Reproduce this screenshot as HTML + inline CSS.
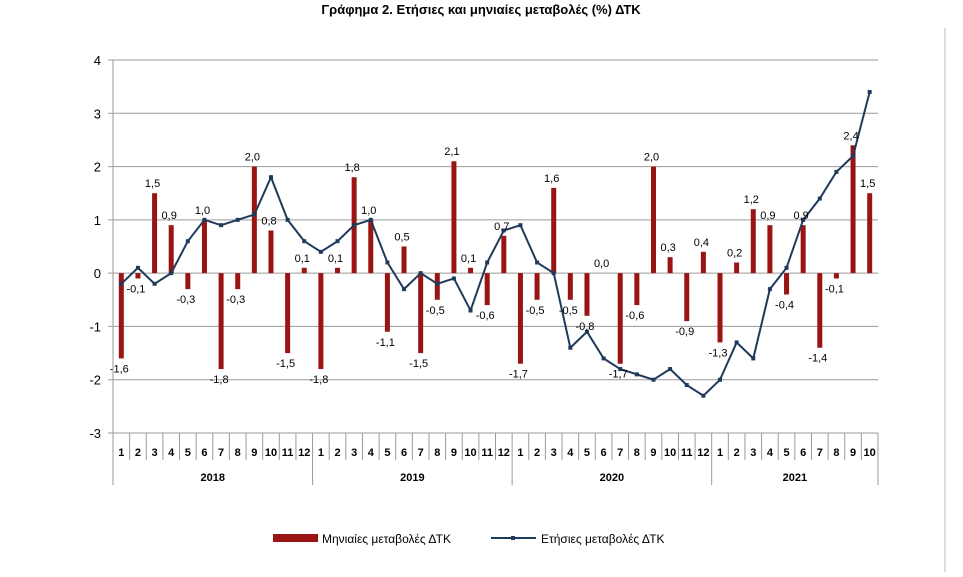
<!DOCTYPE html>
<html><head><meta charset="utf-8"><style>
body{margin:0;background:#fff;width:963px;height:572px;overflow:hidden;font-family:"Liberation Sans","DejaVu Sans",sans-serif;}
</style></head><body>
<svg width="963" height="572" xmlns="http://www.w3.org/2000/svg">
<text x="481" y="14" text-anchor="middle" font-size="13" font-weight="bold">Γράφημα 2. Ετήσιες και μηνιαίες μεταβολές (%) ΔΤΚ</text>
<line x1="945" y1="28" x2="945" y2="572" stroke="#bbb"/>
<g id="grid"></g><g id="bars"></g><g id="line"></g><g id="labels"></g><g id="axis"></g>
<g>
<rect x="273" y="534" width="45" height="8" fill="#9b1414"/>
<text x="322" y="543" font-size="12">Μηνιαίες μεταβολές ΔΤΚ</text>
<line x1="491" y1="538" x2="536" y2="538" stroke="#1f3a5a" stroke-width="2"/>
<rect x="511" y="536" width="4" height="4" fill="#1f3a5a"/>
<text x="541" y="543" font-size="12">Ετήσιες μεταβολές ΔΤΚ</text>
</g>
</svg>
<script>
const years = ["2018","2019","2020","2021"];
const monthsPerYear = [12,12,12,10];
const monthly = [-1.6,-0.1,1.5,0.9,-0.3,1.0,-1.8,-0.3,2.0,0.8,-1.5,0.1,
 -1.8,0.1,1.8,1.0,-1.1,0.5,-1.5,-0.5,2.1,0.1,-0.6,0.7,
 -1.7,-0.5,1.6,-0.5,-0.8,0.0,-1.7,-0.6,2.0,0.3,-0.9,0.4,
 -1.3,0.2,1.2,0.9,-0.4,0.9,-1.4,-0.1,2.4,1.5];
const annual = [-0.2,0.1,-0.2,0.0,0.6,1.0,0.9,1.0,1.1,1.8,1.0,0.6,
 0.4,0.6,0.9,1.0,0.2,-0.3,0.0,-0.2,-0.1,-0.7,0.2,0.8,
 0.9,0.2,0.0,-1.4,-1.1,-1.6,-1.8,-1.9,-2.0,-1.8,-2.1,-2.3,
 -2.0,-1.3,-1.6,-0.3,0.1,1.0,1.4,1.9,2.2,3.4];
const yTicks = [-3,-2,-1,0,1,2,3,4];

const NS="http://www.w3.org/2000/svg";
const X0=113,X1=878,Y4=60,Ym3=433;
const n=monthly.length, step=(X1-X0)/n;
const xC=i=>X0+step*(i+0.5);
const y=v=>Y4+(4-v)*(Ym3-Y4)/7;
function mk(p,t,a){const e=document.createElementNS(NS,t);for(const k in a)e.setAttribute(k,a[k]);p.appendChild(e);return e;}
const G=id=>document.getElementById(id);
const fmt=v=>v.toFixed(1).replace('.',',');

yTicks.forEach(t=>{
 const l=mk(G('grid'),'line',{x1:X0-5,x2:X1,y1:y(t),y2:y(t),stroke:'#9a9a9a','stroke-width':1});
 
 
 const tx=mk(G('axis'),'text',{x:X0-12,y:y(t)+5,'text-anchor':'end','font-size':13});
 tx.textContent=t;
 
 
});
mk(G('axis'),'line',{x1:X0,x2:X0,y1:Y4,y2:485,stroke:'#9a9a9a'});
monthly.forEach((v,i)=>{
 const b=mk(G('bars'),'rect',{x:xC(i)-2.5,width:5,y:Math.min(y(v),y(0)),height:Math.abs(y(v)-y(0)),fill:'#9b1414'});
 
 
 const t=mk(G('labels'),'text',{x:xC(i)-2,y:v>=0?y(v)-6:y(v)+14,'text-anchor':'middle','font-size':11});
 t.textContent=fmt(v);
 
 
});
const pl=mk(G('line'),'polyline',{points:annual.map((v,i)=>xC(i)+','+y(v)).join(' '),fill:'none',stroke:'#1f3a5a','stroke-width':2});


annual.forEach((v,i)=>{
 const m=mk(G('line'),'rect',{x:xC(i)-2,y:y(v)-2,width:4,height:4,fill:'#1f3a5a'});
 
 
});
let idx=0;
years.forEach((yr,k)=>{
 const start=idx;
 for(let m=1;m<=monthsPerYear[k];m++){
  const t=mk(G('axis'),'text',{x:xC(idx),y:456,'text-anchor':'middle','font-size':11,'font-weight':'bold'});
  t.textContent=m;
  
  
  idx++;
  if(m<monthsPerYear[k]) mk(G('axis'),'line',{x1:X0+step*idx,x2:X0+step*idx,y1:Ym3,y2:460,stroke:'#9a9a9a'});
 }
 mk(G('axis'),'line',{x1:X0+step*idx,x2:X0+step*idx,y1:Ym3,y2:485,stroke:'#9a9a9a'});
 const t=mk(G('axis'),'text',{x:(X0+step*start+X0+step*idx)/2,y:481,'text-anchor':'middle','font-size':11,'font-weight':'bold'});
 t.textContent=yr;
 
 
});
</script>
</body></html>
